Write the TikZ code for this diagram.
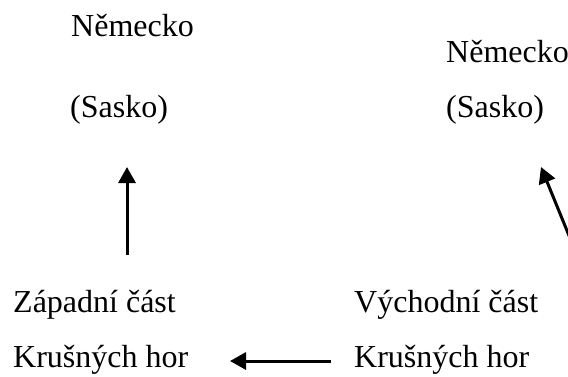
\documentclass[tikz,border=0pt]{standalone}
\usepackage{fontspec}
\setmainfont{Liberation Serif}
\usetikzlibrary{arrows.meta}
\begin{document}
\begin{tikzpicture}[x=1pt,y=-1pt,
  lbl/.style={anchor=base west,inner sep=0pt,font=\fontsize{32}{38}\selectfont},
  arr/.style={line width=3pt,-{Triangle[length=16pt,width=17pt]}}]
\useasboundingbox (0,0) rectangle (568,376);
\node[lbl] (n1) at (71,36) {Německo};
\node[lbl] (s1) at (70,117) {(Sasko)};
\node[lbl] (n2) at (446,62) {Německo};
\node[lbl] (s2) at (446,117) {(Sasko)};
\node[lbl] (z1) at (13,312) {Západní část};
\node[lbl] (z2) at (13,367) {Krušných hor};
\node[lbl] (v1) at (354,312) {Východní část};
\node[lbl] (v2) at (354,367) {Krušných hor};
\coordinate (a1s) at (127,255);
\coordinate (a1e) at (127,167);
\coordinate (a2s) at (331,361);
\coordinate (a2e) at (230,361);
\coordinate (a3s) at (570,238);
\coordinate (a3e) at (541,167);
\draw[arr] (a1s) -- (a1e);
\draw[arr] (a2s) -- (a2e);
\begin{scope}
\clip (0,0) rectangle (568,376);
\draw[arr] (a3s) -- (a3e);
\end{scope}
\end{tikzpicture}
\end{document}
